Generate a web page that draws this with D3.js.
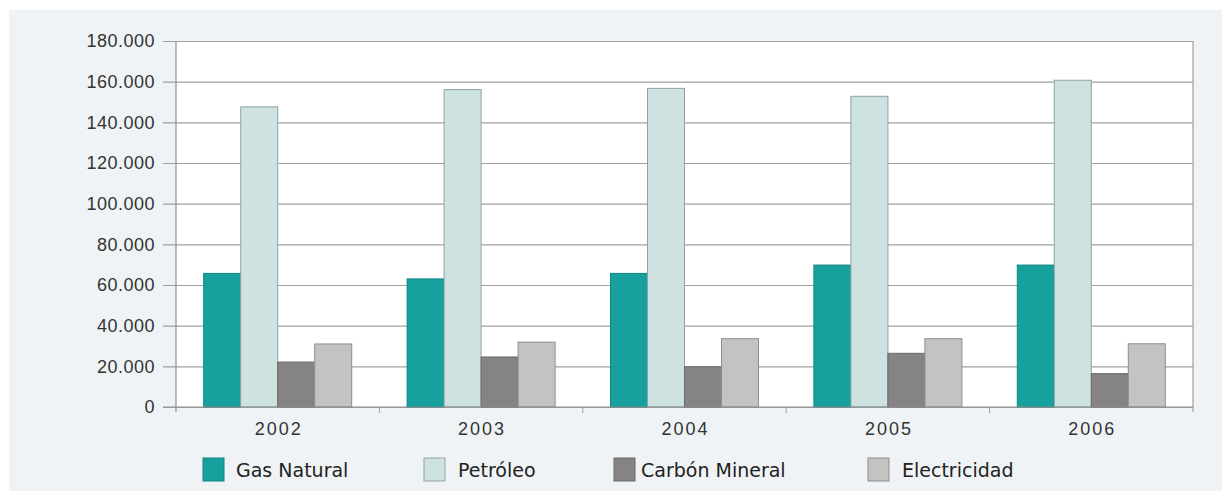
<!DOCTYPE html>
<html>
<head>
<meta charset="utf-8">
<script src="https://cdn.jsdelivr.net/npm/d3@7"></script>
<style>
  html, body { margin: 0; padding: 0; background: #fff; }
  svg { display: block; }
</style>
</head>
<body>
<div id="chart"></div>
<script>
const years = ['2002', '2003', '2004', '2005', '2006'];
const series = ['Gas Natural', 'Petróleo', 'Carbón Mineral', 'Electricidad'];
const gasNatural = [65700, 63000, 65700, 69800, 69800];
const petroleo = [147600, 156100, 156700, 152800, 160700];
const carbonMineral = [22100, 24600, 19800, 26400, 16400];
const electricidad = [31000, 31900, 33600, 33600, 31100];
const yTicks = [0, 20000, 40000, 60000, 80000, 100000, 120000, 140000, 160000, 180000];

const width = 1222
    , height = 491
    , margin = { top: 41, right: 29, bottom: 84, left: 176 }
    , bgColor = '#eff3f5'
    , fills = ['#16a09e', '#cfe2e2', '#858384', '#c3c3c1']
    , strokes = ['#0f8583', '#8fa3a3', '#6b696a', '#8e8e8c']
    ;

const values = [gasNatural, petroleo, carbonMineral, electricidad];
const rows = years.map((y, i) => ({
  year: y,
  vals: series.map((s, j) => ({ key: s, idx: j, value: values[j][i] }))
}));

const locale = d3.formatLocale({ decimal: ',', thousands: '.', grouping: [3], currency: ['', ''] });
const fmt = locale.format(',');

const svg = d3.select('#chart').append('svg')
  .attr('width', width)
  .attr('height', height)
  .style('font-family', '"DejaVu Sans", sans-serif');

// background panel
svg.append('rect')
  .attr('x', 9).attr('y', 10)
  .attr('width', width - 9).attr('height', height - 10)
  .attr('fill', bgColor);

const x0 = d3.scaleBand()
  .domain(years)
  .range([margin.left, width - margin.right]);

const bw = x0.bandwidth();
const x1 = d3.scaleBand()
  .domain(series)
  .range([bw / 2 - 74, bw / 2 + 74]);

const y = d3.scaleLinear()
  .domain([0, 180000])
  .range([height - margin.bottom, margin.top]);

// plot area
svg.append('rect')
  .attr('x', margin.left).attr('y', margin.top)
  .attr('width', width - margin.right - margin.left)
  .attr('height', y(0) - margin.top)
  .attr('fill', '#fff');

// gridlines + y axis
const yAxis = svg.append('g')
  .attr('transform', `translate(${margin.left},0)`)
  .call(d3.axisLeft(y).tickValues(yTicks).tickFormat(fmt)
    .tickSize(-(width - margin.right - margin.left)).tickPadding(20));
yAxis.select('.domain').remove();
yAxis.selectAll('.tick line')
  .attr('x1', -13)
  .attr('stroke', '#a0a0a0')
  .attr('stroke-width', 1.2);
yAxis.selectAll('.tick text')
  .attr('x', -21)
  .attr('fill', '#333')
  .style('font-size', '18px')
  .style('letter-spacing', '0.5px');

// bars
const groups = svg.append('g')
  .selectAll('g')
  .data(rows)
  .join('g')
    .attr('transform', d => `translate(${x0(d.year)},0)`);

groups.selectAll('rect')
  .data(d => d.vals)
  .join('rect')
    .attr('x', d => x1(d.key))
    .attr('y', d => y(d.value))
    .attr('width', x1.bandwidth())
    .attr('height', d => y(0) - y(d.value))
    .attr('fill', d => fills[d.idx])
    .attr('stroke', d => strokes[d.idx])
    .attr('stroke-width', 1);

// frame lines (left, right)
svg.append('line')
  .attr('x1', margin.left).attr('x2', margin.left)
  .attr('y1', margin.top).attr('y2', y(0) + 5)
  .attr('stroke', '#909090').attr('stroke-width', 1.2);
svg.append('line')
  .attr('x1', width - margin.right).attr('x2', width - margin.right)
  .attr('y1', margin.top).attr('y2', y(0) + 5)
  .attr('stroke', '#a0a0a0').attr('stroke-width', 1.2);

// x axis
const xAxis = svg.append('g')
  .attr('transform', `translate(0,${y(0)})`)
  .call(d3.axisBottom(x0).tickSize(0).tickPadding(15));
xAxis.select('.domain')
  .attr('d', `M${margin.left - 13},0H${width - margin.right}`)
  .attr('stroke', '#909090')
  .attr('stroke-width', 1.2);
xAxis.selectAll('.tick text')
  .attr('fill', '#333')
  .attr('dx', '1px')
  .style('font-size', '18px')
  .style('letter-spacing', '2px');

// category separators
svg.append('g')
  .selectAll('line')
  .data(years.slice(1))
  .join('line')
    .attr('x1', d => x0(d)).attr('x2', d => x0(d))
    .attr('y1', y(0)).attr('y2', y(0) + 6)
    .attr('stroke', '#a0a0a0');

// legend
const legendX = [203, 424, 614, 868];
const legendTextX = [236, 458, 641, 902];
const legend = svg.append('g')
  .selectAll('g')
  .data(series)
  .join('g');
legend.append('rect')
  .attr('x', (d, i) => legendX[i])
  .attr('y', 458)
  .attr('width', 21)
  .attr('height', 23)
  .attr('fill', (d, i) => fills[i])
  .attr('stroke', (d, i) => strokes[i]);
legend.append('text')
  .attr('x', (d, i) => legendTextX[i])
  .attr('y', 477)
  .attr('fill', '#222')
  .style('font-size', '19px')
  .text(d => d);
</script>
</body>
</html>
